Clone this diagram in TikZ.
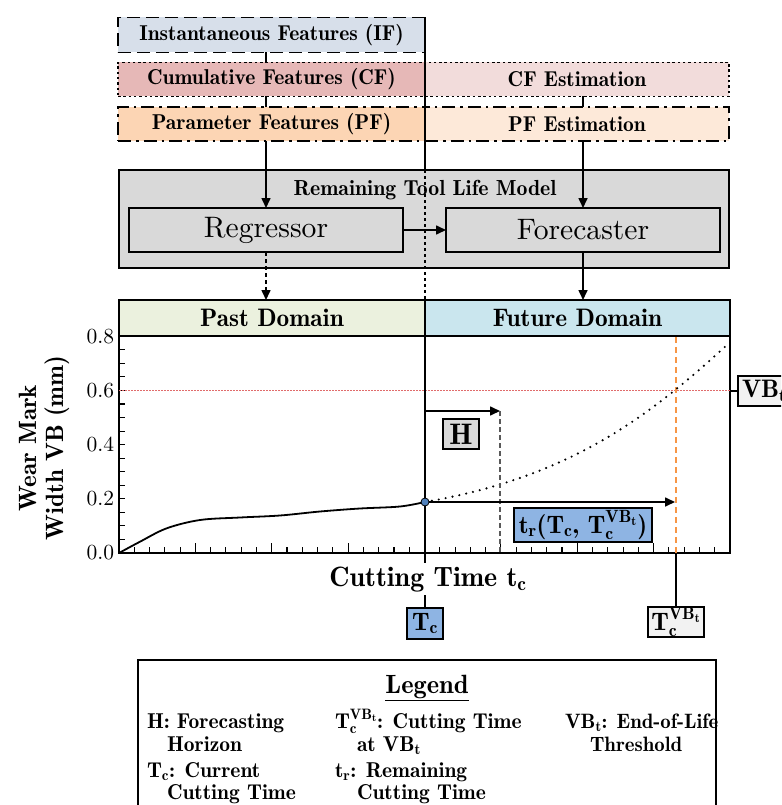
\documentclass[tikz,border=0pt]{standalone}
\usepackage{fix-cm}
\usepackage{amstext}
\usepackage{fontspec}
\setmainfont{lmroman10-regular.otf}[BoldFont=lmromandemi10-regular.otf, ItalicFont=lmroman10-italic.otf, BoldItalicFont=lmroman10-bolditalic.otf]
\newcommand{\mb}[1]{\textbf{#1}}
\usetikzlibrary{arrows.meta}
\definecolor{ifc}{HTML}{D7DFEA}
\definecolor{cfc}{HTML}{E6B8B7}
\definecolor{cfe}{HTML}{F2DCDB}
\definecolor{pfc}{HTML}{FCD5B4}
\definecolor{pfe}{HTML}{FDE9D9}
\definecolor{modc}{HTML}{D9D9D9}
\definecolor{pastc}{HTML}{EBF1DE}
\definecolor{futc}{HTML}{CAE6EE}
\definecolor{bluebox}{HTML}{8EB4E3}
\definecolor{dotc}{HTML}{4F81BD}
\definecolor{lightbox}{HTML}{F2F2F2}
\definecolor{orangel}{HTML}{F79646}
\definecolor{redl}{HTML}{E06C6C}
\begin{document}
\begin{tikzpicture}[x=1pt,y=-1pt,
  every node/.style={inner sep=0pt, outer sep=0pt},
  feat/.style={draw, line width=1.6pt, minimum height=35pt, font=\fontsize{21.5}{25}\selectfont\bfseries},
  dashIF/.style={dash pattern=on 13pt off 6pt},
  dotCF/.style={dash pattern=on 2.5pt off 2.8pt},
  dashdotPF/.style={dash pattern=on 13pt off 5pt on 2.5pt off 5pt},
  modbox/.style={draw, fill=modc, line width=1.6pt},
  arr/.style={line width=1.6pt, -{Triangle[length=10pt,width=9pt]}},
  hdr/.style={draw, line width=2.2pt, minimum height=36pt, font=\fontsize{25.3}{29}\selectfont\bfseries},
  tick/.style={line width=1.1pt},
  ticklab/.style={anchor=east, font=\fontsize{21.5}{25}\selectfont},
  markbox/.style={draw, line width=1.2pt, font=\fontsize{25.3}{29}\selectfont\bfseries},
  legtext/.style={anchor=base west, font=\fontsize{21.5}{25}\selectfont\bfseries}
]
\useasboundingbox (0,0) rectangle (781,805);
\clip (0,0) rectangle (781,805);
\fill[white] (0,0) rectangle (781,805);

% feature boxes
\node[feat, fill=ifc, dashIF, minimum width=307pt] (IF) at (271.5,35) {Instantaneous Features (IF)};
\node[feat, fill=cfc, dotCF, minimum width=307pt, minimum height=34pt] (CF) at (271.5,79.5) {Cumulative Features (CF)};
\node[feat, fill=cfe, dotCF, minimum width=304pt, minimum height=34pt] (CFE) at (577,79.5) {CF Estimation};
\node[feat, fill=pfc, dashdotPF, minimum width=307pt, minimum height=34pt] (PF) at (271.5,124) {Parameter Features (PF)};
\node[feat, fill=pfe, dashdotPF, minimum width=304pt, minimum height=34pt] (PFE) at (577,124) {PF Estimation};

% model
\node[modbox, minimum width=610pt, minimum height=98pt] (Model) at (424,219) {};
\node[anchor=base, font=\fontsize{21.8}{25}\selectfont\bfseries] (ModelLbl) at (425,196) {Remaining Tool Life Model};
\node[modbox, minimum width=274pt, minimum height=44pt, font=\fontsize{29.6}{34}\selectfont] (Reg) at (266,230) {Regressor};
\node[modbox, minimum width=274pt, minimum height=44pt, font=\fontsize{29.6}{34}\selectfont] (Fore) at (583,230) {Forecaster};

% domain headers and plot
\node[hdr, fill=pastc, minimum width=306pt] (Past) at (272,318) {Past Domain};
\node[hdr, fill=futc, minimum width=305pt] (Future) at (577.5,318) {Future Domain};
\node[draw, line width=2.2pt, minimum width=611pt, minimum height=217pt] (Plot) at (424.5,444.5) {};

% connectors from features
\draw[line width=1.6pt] (IF.south -| Reg.north) -- (CF.north -| Reg.north);
\draw[line width=1.6pt] (CF.south -| Reg.north) -- (PF.north -| Reg.north);
\draw[arr] (PF.south -| Reg.north) -- (Reg.north);
\draw[line width=1.6pt] (CFE.south -| Fore.north) -- (PFE.north -| Fore.north);
\draw[arr] (PFE.south -| Fore.north) -- (Fore.north);
\draw[arr] (Reg.east) -- (Fore.west);
\draw[arr, dash pattern=on 4pt off 3pt] (Reg.south) -- (Reg.south |- Past.north);
\draw[arr] (Fore.south) -- (Fore.south |- Future.north);

% current-time vertical line
\coordinate (ctop) at (IF.north east);
\coordinate (cmod) at (ctop |- Model.north);
\coordinate (cdom) at (ctop |- Future.north);
\draw[line width=1.8pt] (ctop) -- (cmod);
\draw[line width=1.4pt, dash pattern=on 3pt off 3pt] (cmod) -- (cdom);

% ticks
\foreach \k in {1,...,15} \draw[tick] (119,553-\k*13.55) -- ++(6,0);
\foreach \k in {1,...,39} \draw[tick] (119+\k*15.275,553) -- ++(0,-6);
\foreach \k in {5,10,...,35} \draw[tick] (119+\k*15.275,553) -- ++(0,-10);
\foreach \v/\lab in {0/0.0,0.2/0.2,0.4/0.4,0.6/0.6,0.8/0.8}
  \node[ticklab] at (114,553-\v*271) {\lab};
\node[rotate=90, align=center, font=\fontsize{25}{27}\selectfont\bfseries] (ylab) at (44,448) {Wear Mark\\Width VB (mm)};

% threshold
\draw[redl, line width=1pt, dash pattern=on 1.5pt off 1.5pt] (Plot.west |- 0,390.4) -- (Plot.east |- 0,390.4);
\node[markbox, fill=lightbox, minimum height=30pt, inner sep=4pt, anchor=west] (VBt) at (738,391) {$\mb{VB}_{\mb{t}}$};
\draw[line width=1.6pt] (Plot.east |- VBt.west) -- (VBt.west);

% end of life time
\node[markbox, fill=lightbox, minimum width=56pt, minimum height=30pt] (TVB) at (676,622) {$\mb{T}_{\mb{c}}^{\mb{VB}_{\mb{t}}}$};
\coordinate (otop) at (676,337);
\coordinate (obot) at (676,553);
\draw[orangel, line width=2pt, dash pattern=on 6pt off 4pt] (otop) -- (obot);
\draw[line width=1.6pt] (obot) -- (TVB.north);

% current time marker
\node[markbox, fill=bluebox, minimum width=36pt, minimum height=31pt] (Tc) at (425,623.5) {$\mb{T}_{\mb{c}}$};
\draw[line width=1.8pt] (cdom) -- (Tc.north);
\node[fill=white, inner sep=3pt, anchor=base, font=\fontsize{28}{31}\selectfont\bfseries] (xlab) at (428,586) {Cutting Time $\mb{t}_{\mb{c}}$};

% curves
\draw[line width=1.8pt] plot[smooth, tension=0.55] coordinates {(119,553) (140,541.7) (166.7,528.3) (200,520) (240,517.5) (280,515.5) (320,511.5) (360,508.5) (400,506.5) (425,502)};
\draw[line width=2.4pt, line cap=round, dash pattern=on 0pt off 7pt] (425,502) .. controls (570,477) and (648,417.6) .. (728,344);

% horizon
\coordinate (Hs) at (425,411);
\coordinate (He) at (500,411);
\coordinate (Hb) at (500,553);
\draw[arr] (Hs) -- (He);
\draw[black!65, line width=1.2pt, dash pattern=on 5pt off 3pt] (He) -- (Hb);
\node[markbox, fill=modc, minimum width=36pt, minimum height=30pt, font=\fontsize{29.7}{32}\selectfont\bfseries] (H) at (461,434) {H};

% remaining time
\node[circle, draw, fill=dotc, minimum size=8pt, line width=0.8pt] (dot) at (425,502) {};
\coordinate (trEnd) at (675,502);
\draw[arr] (dot) -- (trEnd);
\node[markbox, fill=bluebox, minimum width=138pt, minimum height=34pt] (tr) at (583,525) {$\mb{t}_{\mb{r}}\mb{(}\mb{T}_{\mb{c}}\mb{,}\ \mb{T}_{\mb{c}}^{\mb{VB}_{\mb{t}}}\mb{)}$};

% legend
\node[draw, fill=white, line width=1.8pt, minimum width=578pt, minimum height=170pt, anchor=north] (Leg) at (427,660) {};
\node[anchor=base, font=\fontsize{26.4}{30}\selectfont\bfseries] (LegT) at (427,693) {\underline{Legend}};
\node[legtext] (L1a) at (147,728) {H: Forecasting};
\node[legtext] (L1b) at (167,751) {Horizon};
\node[legtext] (L2a) at (147,777) {$\mb{T}_{\mb{c}}$: Current};
\node[legtext] (L2b) at (167,799) {Cutting Time};
\node[legtext] (L3a) at (335,728) {$\mb{T}_{\mb{c}}^{\mb{VB}_{\mb{t}}}$: Cutting Time};
\node[legtext] (L3b) at (357,751) {at $\mb{VB}_{\mb{t}}$};
\node[legtext] (L4a) at (335,777) {$\mb{t}_{\mb{r}}$: Remaining};
\node[legtext] (L4b) at (357,799) {Cutting Time};
\node[legtext, font=\fontsize{20.8}{25}\selectfont\bfseries] (L5a) at (565,728) {$\mb{VB}_{\mb{t}}$: End-of-Life};
\node[legtext, font=\fontsize{20.8}{25}\selectfont\bfseries] (L5b) at (590,751) {Threshold};
\end{tikzpicture}
\end{document}
